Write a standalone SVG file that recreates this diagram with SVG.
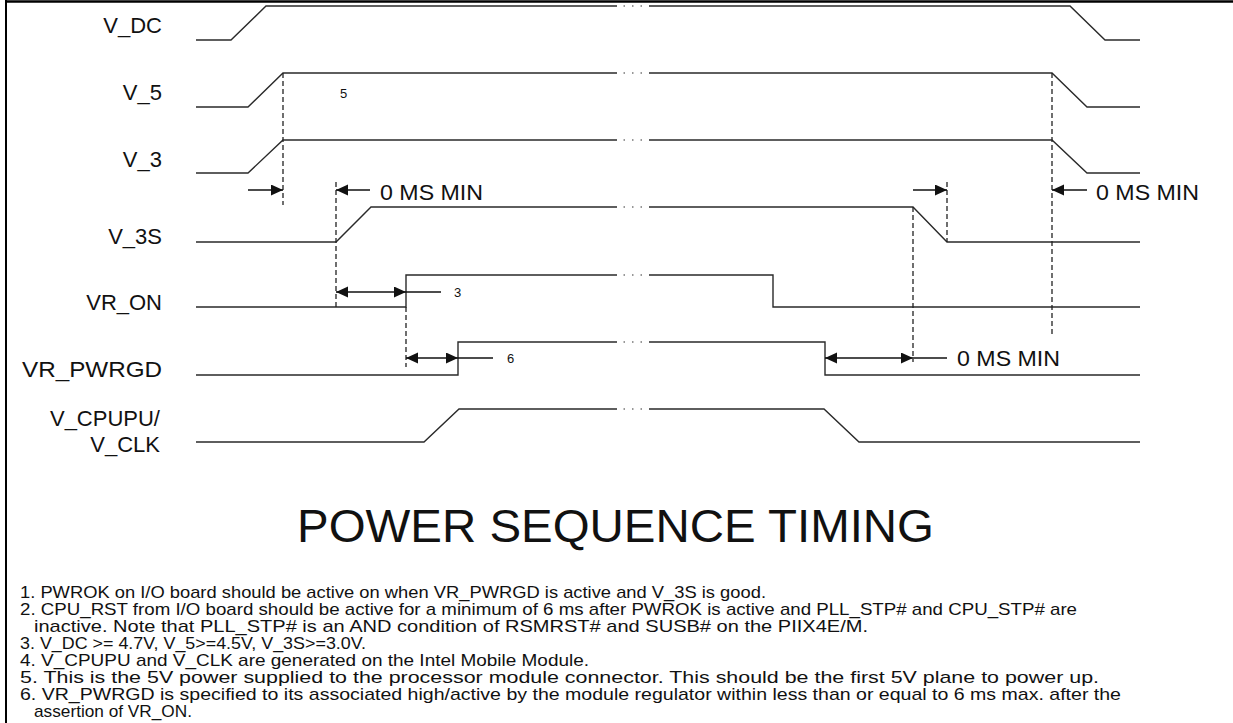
<svg xmlns="http://www.w3.org/2000/svg" width="1233" height="723" viewBox="0 0 1233 723">
<defs>
<marker id="ah" markerUnits="userSpaceOnUse" markerWidth="13" markerHeight="12" refX="12" refY="5.5" orient="auto-start-reverse">
<path d="M0,0 L12,5.5 L0,11 z" fill="#111"/>
</marker>
</defs>
<style>
.sig{fill:none;stroke:#2a2a2a;stroke-width:1.4}
.dash{fill:none;stroke:#222;stroke-width:1.3;stroke-dasharray:5 3}
.dim{fill:none;stroke:#111;stroke-width:1.3}
.dots{stroke:#777;stroke-width:1.5;stroke-dasharray:1.5 7}
.lbl{font-family:"Liberation Sans",Arial,sans-serif;font-size:22px;fill:#111}
.ms{font-family:"Liberation Sans",Arial,sans-serif;font-size:22.5px;fill:#111}
.num{font-family:"Liberation Sans",Arial,sans-serif;font-size:13px;fill:#111}
.title{font-family:"Liberation Sans",Arial,sans-serif;font-size:46px;fill:#111}
.note{font-family:"Liberation Sans",Arial,sans-serif;font-size:17px;fill:#111}
.frame{stroke:#000;fill:none}
</style>
<rect width="1233" height="723" fill="#fff"/>
<line class="frame" x1="5" y1="1.5" x2="1233" y2="1.5" stroke-width="2.5"/>
<line class="frame" x1="6" y1="0" x2="6" y2="723" stroke-width="2"/>

<g id="V_DC">
<text class="lbl" x="162" y="33" text-anchor="end">V_DC</text>
<polyline class="sig" points="196,40 231,40 266,6 617,6"/>
<line class="dots" x1="623.5" y1="6" x2="643" y2="6"/>
<polyline class="sig" points="649,6 1070,6 1105,40 1140,40"/>
</g>
<g id="V_5">
<text class="lbl" x="162" y="100" text-anchor="end">V_5</text>
<polyline class="sig" points="196,107 248,107 283,73 617,73"/>
<line class="dots" x1="623.5" y1="73" x2="643" y2="73"/>
<polyline class="sig" points="649,73 1052,73 1087,107 1140,107"/>
<text class="num" x="340" y="98">5</text>
</g>
<g id="V_3">
<text class="lbl" x="162" y="167" text-anchor="end">V_3</text>
<polyline class="sig" points="196,173 248,173 283,140 617,140"/>
<line class="dots" x1="623.5" y1="140" x2="643" y2="140"/>
<polyline class="sig" points="649,140 1052,140 1087,173 1140,173"/>
</g>
<g id="V_3S">
<text class="lbl" x="162" y="244" text-anchor="end">V_3S</text>
<polyline class="sig" points="196,242 336,242 371,207 617,207"/>
<line class="dots" x1="623.5" y1="207" x2="643" y2="207"/>
<polyline class="sig" points="649,207 913,207 947,242 1140,242"/>
</g>
<g id="VR_ON">
<text class="lbl" x="162" y="310" text-anchor="end">VR_ON</text>
<polyline class="sig" points="196,307 406,307 406,275 617,275"/>
<line class="dots" x1="623.5" y1="275" x2="643" y2="275"/>
<polyline class="sig" points="649,275 773,275 773,307 1140,307"/>
</g>
<g id="VR_PWRGD">
<text class="lbl" x="162" y="377" text-anchor="end" textLength="140" lengthAdjust="spacingAndGlyphs">VR_PWRGD</text>
<polyline class="sig" points="196,375 458,375 458,342 617,342"/>
<line class="dots" x1="623.5" y1="342" x2="643" y2="342"/>
<polyline class="sig" points="649,342 825,342 825,375 1140,375"/>
</g>
<g id="V_CPUPU">
<text class="lbl" x="160" y="426" text-anchor="end">V_CPUPU/</text>
<text class="lbl" x="160" y="452" text-anchor="end">V_CLK</text>
<polyline class="sig" points="196,442 424,442 459,409 617,409"/>
<line class="dots" x1="623.5" y1="409" x2="643" y2="409"/>
<polyline class="sig" points="649,409 824,409 859,442 1140,442"/>
</g>

<g id="connectors">
<line class="dash" x1="283" y1="73" x2="283" y2="205"/>
<line class="dash" x1="336" y1="182" x2="336" y2="307"/>
<line class="dash" x1="406" y1="307" x2="406" y2="367"/>
<line class="dash" x1="913" y1="207" x2="913" y2="362"/>
<line class="dash" x1="947" y1="182" x2="947" y2="242"/>
<line class="dash" x1="1052" y1="73" x2="1052" y2="337"/>

<line class="dim" x1="248" y1="190" x2="283" y2="190" marker-end="url(#ah)"/>
<line class="dim" x1="370" y1="190" x2="336" y2="190" marker-end="url(#ah)"/>
<line class="dim" x1="913" y1="190" x2="947" y2="190" marker-end="url(#ah)"/>
<line class="dim" x1="1087" y1="190" x2="1052" y2="190" marker-end="url(#ah)"/>
<line class="dim" x1="336" y1="292" x2="406" y2="292" marker-start="url(#ah)" marker-end="url(#ah)"/>
<line class="dim" x1="406" y1="292" x2="441" y2="292"/>
<line class="dim" x1="406" y1="358" x2="458" y2="358" marker-start="url(#ah)" marker-end="url(#ah)"/>
<line class="dim" x1="458" y1="358" x2="493" y2="358"/>
<line class="dim" x1="825" y1="358" x2="913" y2="358" marker-start="url(#ah)" marker-end="url(#ah)"/>
<line class="dim" x1="913" y1="358" x2="947" y2="358"/>
</g>

<g id="labels">
<text class="ms" x="380" y="200" textLength="103" lengthAdjust="spacingAndGlyphs">0 MS MIN</text>
<text class="ms" x="1096" y="200" textLength="103" lengthAdjust="spacingAndGlyphs">0 MS MIN</text>
<text class="ms" x="957" y="366" textLength="103" lengthAdjust="spacingAndGlyphs">0 MS MIN</text>
<text class="num" x="454" y="297">3</text>
<text class="num" x="507" y="363">6</text>
</g>

<g id="title">
<text class="title" x="297" y="542" textLength="637" lengthAdjust="spacingAndGlyphs">POWER SEQUENCE TIMING</text>
</g>

<g id="notes">
<text class="note" x="20" y="598" textLength="746" lengthAdjust="spacingAndGlyphs">1. PWROK on I/O board should be active on when VR_PWRGD is active and V_3S is good.</text>
<text class="note" x="20" y="615" textLength="1057" lengthAdjust="spacingAndGlyphs">2. CPU_RST from I/O board should be active for a minimum of 6 ms after PWROK is active and PLL_STP# and CPU_STP# are</text>
<text class="note" x="34" y="632" textLength="834" lengthAdjust="spacingAndGlyphs">inactive. Note that PLL_STP# is an AND condition of RSMRST# and SUSB# on the PIIX4E/M.</text>
<text class="note" x="20" y="649" textLength="346" lengthAdjust="spacingAndGlyphs">3. V_DC &gt;= 4.7V, V_5&gt;=4.5V, V_3S&gt;=3.0V.</text>
<text class="note" x="20" y="666" textLength="569" lengthAdjust="spacingAndGlyphs">4. V_CPUPU and V_CLK are generated on the Intel Mobile Module.</text>
<text class="note" x="20" y="683" textLength="1079" lengthAdjust="spacingAndGlyphs">5. This is the 5V power supplied to the processor module connector. This should be the first 5V plane to power up.</text>
<text class="note" x="20" y="700" textLength="1101" lengthAdjust="spacingAndGlyphs">6. VR_PWRGD is specified to its associated high/active by the module regulator within less than or equal to 6 ms max. after the</text>
<text class="note" x="34" y="717" textLength="158" lengthAdjust="spacingAndGlyphs">assertion of VR_ON.</text>
</g>
</svg>
